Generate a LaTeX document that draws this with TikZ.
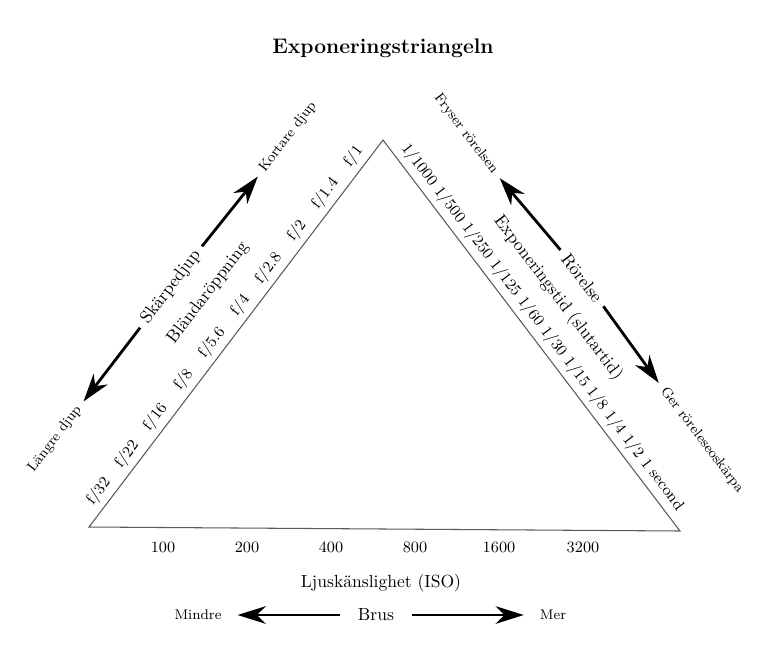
\documentclass[tikz,border=0pt]{standalone}
\usetikzlibrary{arrows.meta, positioning, calc}

\begin{document}
\begin{tikzpicture}[
    x=0.02cm, y=-0.02cm,
    title/.style={font=\large\bfseries},
    side/.style={draw=black!65, line width=0.6pt},
    axis/.style={font=\normalsize, inner sep=2pt},
    value/.style={font=\small, inner sep=1pt},
    hint/.style={font=\footnotesize, inner sep=2pt},
    big/.style={-{Stealth[length=16pt, width=10pt, inset=5pt]}, line width=1.6pt, shorten <=2pt, shorten >=2pt}
]
\useasboundingbox (0,0) rectangle (768,654);

% Titel
\node[title] (title) at (383,48) {Exponeringstriangeln};

% Triangelns hörn
\coordinate (apex) at (383,140);
\coordinate (bl)   at (89,527);
\coordinate (br)   at (680,531);
\draw[side] (bl) -- (apex) -- (br) -- cycle;

% Bländarsidan
\foreach \f [count=\i from 0, evaluate=\i as \p using 0.07+0.0963*\i] in {32,22,16,8,5.6,4,2.8,2,1.4,1} {
    \path (bl) -- (apex) node[value, pos=\p, sloped, above=2pt] (f\i) {f/\f};
}
\node[axis, rotate=52.8] (aperture) at (208,293) {Bländaröppning};
\node[axis, rotate=52.8] (depth)    at (171,287) {Skärpedjup};
\node[hint, rotate=52.8] (shallow)  at (288,137) {Kortare djup};
\node[hint, rotate=52.8] (deep)     at (55,439) {Längre djup};

\draw[big] (depth.east) -- (shallow.west);
\draw[big] (depth.west) -- (deep.east);

% Slutarsidan
\path (apex) -- (br) node[value, pos=0.5, sloped, above=2pt] (speeds)
    {1/1000 1/500 1/250 1/125 1/60 1/30 1/15 1/8 1/4 1/2 1 second};
\node[axis, rotate=-52.8] (shutter) at (558,298) {Exponeringstid (slutartid)};
\node[axis, rotate=-52.8] (motion)  at (582,278) {Rörelse};
\node[hint, rotate=-52.8] (freeze)  at (466,134) {Fryser rörelsen};
\node[hint, rotate=-52.8] (blur)    at (702,440) {Ger röreleseoskärpa};

\draw[big] (motion.west) -- (freeze.east);
\draw[big] (motion.east) -- (blur.west);

% ISO-sidan
\foreach \v [count=\i from 0] in {100,200,400,800,1600,3200} {
    \node[value] (iso\v) at (163+84*\i,547) {\v};
}
\node[axis] (iso)   at (381,583) {Ljuskänslighet (ISO)};
\node[axis] (noise) at (376,615) {Brus};
\node[hint] (less)  at (198,615) {Mindre};
\node[hint] (more)  at (553,615) {Mer};

\draw[big, shorten <=8pt, shorten >=7pt] (noise.west) -- (less.east);
\draw[big, shorten <=8pt, shorten >=7pt] (noise.east) -- (more.west);

\end{tikzpicture}
\end{document}
